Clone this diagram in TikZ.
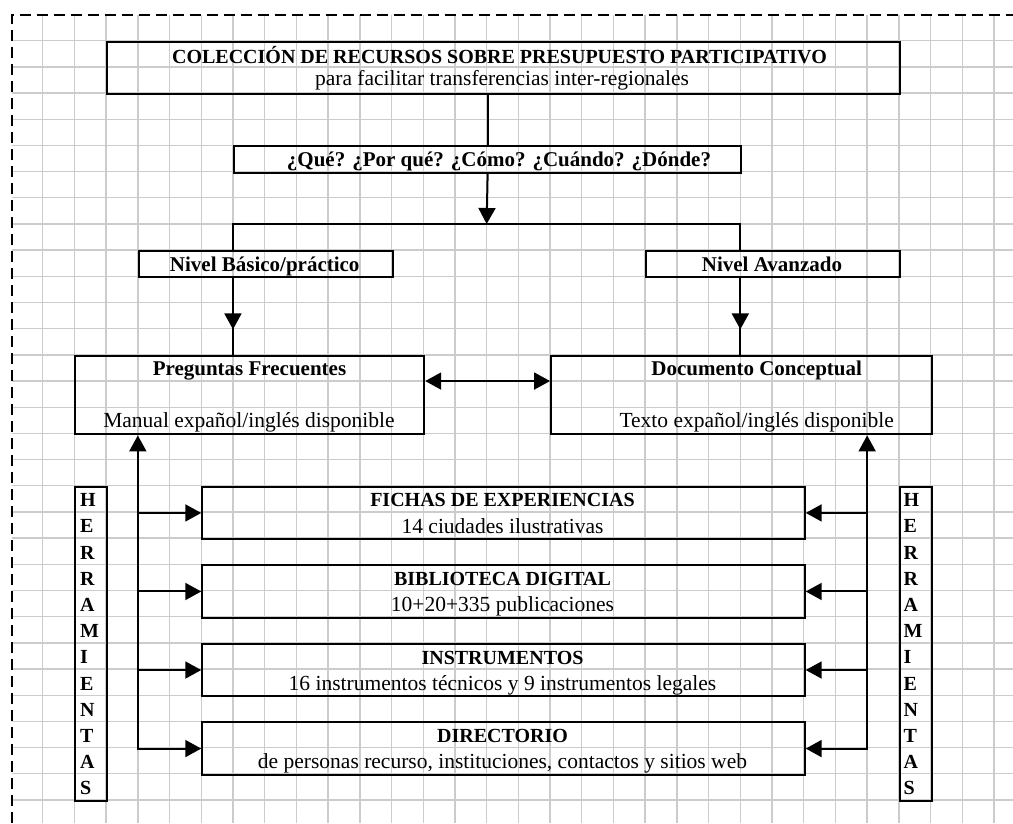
\documentclass[tikz,border=0pt]{standalone}
\usepackage{fontspec}
\setmainfont{Liberation Serif}
\usetikzlibrary{arrows.meta,decorations.markings}
\begin{document}
\begin{tikzpicture}[x=1pt,y=-1pt,
  box/.style={draw=black,line width=2pt,inner sep=0pt,anchor=north west},
  gridline/.style={draw=gray!40,line width=1.4pt},
  conn/.style={draw=black,line width=2pt},
  arr/.style={conn,-{Triangle[length=16pt,width=17pt]}},
  darr/.style={conn,{Triangle[length=16pt,width=17pt]}-{Triangle[length=16pt,width=17pt]}},
  midarr/.style={conn,postaction={decorate},decoration={markings,mark=at position #1 with {\arrow{Triangle[length=16pt,width=17pt]}}}},
  tb/.style={font=\fontsize{21}{25}\selectfont\bfseries,anchor=base,inner sep=0pt},
  tc/.style={font=\fontsize{20}{24}\selectfont\bfseries,anchor=base,inner sep=0pt},
  tr/.style={font=\fontsize{21.5}{25}\selectfont,anchor=base,inner sep=0pt},
  letter/.style={font=\fontsize{20}{22}\selectfont\bfseries,anchor=base west,inner sep=0pt},
]
\useasboundingbox (0,0) rectangle (1013,823);
% grid
\foreach \k in {0,...,30} \draw[gridline] ({42.7+31.71*\k},15) -- ({42.7+31.71*\k},823);
\foreach \j in {0,...,29} \draw[gridline] (11.7,{40.7+26.18*\j}) -- (1013,{40.7+26.18*\j});
% border
\draw[line width=2.3pt,dash pattern=on 11pt off 6pt] (11.7,823) -- (11.7,15) -- (1013,15);

% boxes
\node[box,minimum width=792.75pt,minimum height=52.36pt] (top) at (106.12,40.7) {};
\node[box,minimum width=507.36pt,minimum height=26.18pt] (q) at (232.96,145.42) {};
\node[box,minimum width=253.68pt,minimum height=26.18pt] (nb) at (137.83,250.14) {};
\node[box,minimum width=253.68pt,minimum height=26.18pt] (na) at (645.19,250.14) {};
\node[box,minimum width=348.81pt,minimum height=78.54pt] (pf) at (74.41,354.86) {};
\node[box,minimum width=380.52pt,minimum height=78.54pt] (dc) at (550.06,354.86) {};
\node[box,minimum width=31.71pt,minimum height=314.16pt] (hl) at (74.41,485.76) {};
\node[box,minimum width=31.71pt,minimum height=314.16pt] (hr) at (898.87,485.76) {};
\node[box,minimum width=602.49pt,minimum height=52.36pt] (f1) at (201.25,485.76) {};
\node[box,minimum width=602.49pt,minimum height=52.36pt] (f2) at (201.25,564.3) {};
\node[box,minimum width=602.49pt,minimum height=52.36pt] (f3) at (201.25,642.84) {};
\node[box,minimum width=602.49pt,minimum height=52.36pt] (f4) at (201.25,721.38) {};

% texts
\node[tc] (t1) at (499.5,63) {COLECCIÓN DE RECURSOS SOBRE PRESUPUESTO PARTICIPATIVO};
\node[tr] (t2) at (502,85) {para facilitar transferencias inter-regionales};
\node[tb] (tq) at (499,166) {¿Qué? ¿Por qué? ¿Cómo? ¿Cuándo? ¿Dónde?};
\node[tb] (tnb) at (264.7,271) {Nivel Básico/práctico};
\node[tb] (tna) at (772,271) {Nivel Avanzado};
\node[tb] (tpf) at (249.5,375.5) {Preguntas Frecuentes};
\node[tr] (tpf2) at (249,427.7) {Manual expañol/inglés disponible};
\node[tb] (tdc) at (756.7,375.5) {Documento Conceptual};
\node[tr] (tdc2) at (756.7,427.7) {Texto expañol/inglés disponible};
\node[tc] (tf1) at (502.5,506.8) {FICHAS DE EXPERIENCIAS};
\node[tr] (tf1b) at (502.5,533.3) {14 ciudades ilustrativas};
\node[tc] (tf2) at (502.5,585.3) {BIBLIOTECA DIGITAL};
\node[tr] (tf2b) at (502.5,611.8) {10+20+335 publicaciones};
\node[tc] (tf3) at (502.5,664) {INSTRUMENTOS};
\node[tr] (tf3b) at (502.5,690.3) {16 instrumentos técnicos y 9 instrumentos legales};
\node[tc] (tf4) at (502.5,742.4) {DIRECTORIO};
\node[tr] (tf4b) at (502.5,768.9) {de personas recurso, instituciones, contactos y sitios web};
\foreach \L [count=\i from 0] in {H,E,R,R,A,M,I,E,N,T,A,S} {
  \node[letter] (hl\i) at (79.9,{506.76+26.18*\i}) {\L};
  \node[letter] (hr\i) at (903.4,{506.76+26.18*\i}) {\L};
}

% connectors
\coordinate (sl) at (232.96,223.96);
\coordinate (sm) at (486.64,223.96);
\coordinate (sr) at (740.32,223.96);
\coordinate (dm) at (0,381.04);
\coordinate (lb) at (137.83,747.56);
\coordinate (rb) at (867.16,747.56);
\draw[conn] (q.north |- top.south) -- (q.north);
\draw[arr] (q.south) -- (sm);
\draw[conn] (sl |- nb.north) -- (sl) -- (sr) -- (sr |- na.north);
\draw[midarr=0.667] (sl |- nb.south) -- (sl |- pf.north);
\draw[midarr=0.667] (sr |- na.south) -- (sr |- dc.north);
\draw[darr] (pf.east |- dm) -- (dc.west |- dm);
\draw[darr] (lb |- pf.south) |- (f4.west);
\draw[arr] (lb |- f1.west) -- (f1.west);
\draw[arr] (lb |- f2.west) -- (f2.west);
\draw[arr] (lb |- f3.west) -- (f3.west);
\draw[darr] (rb |- dc.south) |- (f4.east);
\draw[arr] (rb |- f1.east) -- (f1.east);
\draw[arr] (rb |- f2.east) -- (f2.east);
\draw[arr] (rb |- f3.east) -- (f3.east);
\end{tikzpicture}
\end{document}
